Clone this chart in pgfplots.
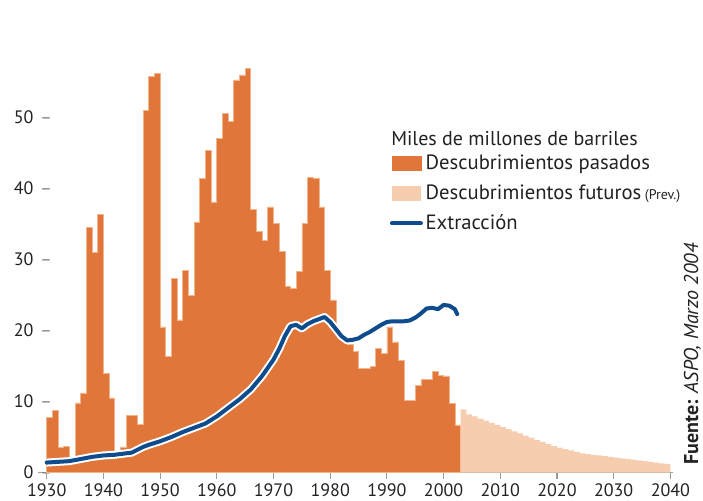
\documentclass[border=0pt]{standalone}
\usepackage{pgfplots}
\pgfplotsset{compat=1.18}
\usepackage{fontspec}
\setmainfont{PT Sans}
\definecolor{pastcol}{HTML}{E0763A}
\definecolor{pastedge}{HTML}{F2B48A}
\definecolor{futcol}{HTML}{F6CDAE}
\definecolor{extcol}{HTML}{0F4C8E}
\definecolor{txtcol}{HTML}{222222}

\begin{document}
\begin{tikzpicture}
\path[use as bounding box] (0,0) rectangle (527.25pt,375pt);
\begin{axis}[
    scale only axis,
    width=476.25pt, height=308.85pt,
    at={(28.65pt,20.625pt)}, anchor=south west,
    xmin=1928.5, xmax=2040.5,
    ymin=0, ymax=58,
    axis lines*=left,
    x axis line style={draw=gray!75, line width=1.1pt},
    y axis line style={draw=none},
    xtick={1930,1940,...,2040},
    ytick={0,10,...,50},
    xtick align=outside,
    xtick style={draw=gray!80, line width=0.8pt},
    major tick length=4.5pt,
    ytick style={draw=none},
    /pgf/number format/assume math mode=true,
    /pgf/number format/1000 sep={},
    tick label style={font=\fontsize{13.5}{15}\selectfont, text=txtcol},
    yticklabel={\pgfmathprintnumber{\tick}\hspace{5pt}{\color{gray}--}},
    yticklabel style={anchor=east, inner sep=0pt, xshift=10.5pt},
    clip=false,
    legend style={at={(0.5535,0.778)}, anchor=north west, draw=none, fill=none,
        font=\fontsize{15.5}{18}\selectfont, text=txtcol, row sep=6pt,
        inner sep=0pt},
    legend cell align=left,
]
% past discoveries, one bar per year
\addplot[const plot mark left, fill=pastcol, draw=pastedge, line width=0.5pt,
    legend image code/.code={\fill[pastcol] (0pt,-5.5pt) rectangle (21.75pt,5.5pt);}]
coordinates {
(1930,7.8)(1931,8.7)(1932,3.5)(1933,3.7)(1934,2.0)(1935,9.8)(1936,11.2)(1937,34.5)
(1938,31.0)(1939,36.3)(1940,14.0)(1941,10.5)(1942,2.2)(1943,3.6)(1944,8.0)(1945,8.0)
(1946,6.8)(1947,51.0)(1948,55.8)(1949,56.2)(1950,20.5)(1951,16.3)(1952,27.3)(1953,21.5)
(1954,28.5)(1955,25.0)(1956,35.3)(1957,41.4)(1958,45.4)(1959,38.1)(1960,47.1)(1961,50.6)
(1962,49.4)(1963,55.3)(1964,56.0)(1965,56.9)(1966,37.0)(1967,33.9)(1968,32.7)(1969,37.4)
(1970,35.1)(1971,31.1)(1972,26.2)(1973,25.9)(1974,28.3)(1975,35.1)(1976,41.6)(1977,41.4)
(1978,37.4)(1979,28.5)(1980,24.3)(1981,20.0)(1982,19.0)(1983,18.0)(1984,17.0)(1985,14.7)
(1986,14.7)(1987,14.9)(1988,17.5)(1989,16.8)(1990,20.5)(1991,18.4)(1992,15.8)(1993,10.2)
(1994,10.2)(1995,12.3)(1996,13.1)(1997,13.1)(1998,14.2)(1999,13.7)(2000,13.6)(2001,9.7)
(2002,6.7)(2003,6.7)
} \closedcycle;
\addlegendentry{Descubrimientos pasados}

% future discoveries (forecast)
\addplot[const plot mark left, fill=futcol, draw=none,
    legend image code/.code={\fill[futcol] (0pt,-5.5pt) rectangle (21.75pt,5.5pt);}]
coordinates {
(2003,8.9)(2004,8.2)(2005,7.9)(2006,7.6)(2007,7.3)(2008,7.0)(2009,6.7)(2010,6.4)
(2011,6.1)(2012,5.8)(2013,5.5)(2014,5.2)(2015,4.9)(2016,4.6)(2017,4.3)(2018,4.0)
(2019,3.7)(2020,3.5)(2021,3.3)(2022,3.1)(2023,2.9)(2024,2.7)(2025,2.6)(2026,2.5)
(2027,2.4)(2028,2.3)(2029,2.2)(2030,2.1)(2031,2.0)(2032,1.9)(2033,1.8)(2034,1.7)
(2035,1.6)(2036,1.5)(2037,1.4)(2038,1.3)(2039,1.2)(2040,1.2)
} \closedcycle;
\addlegendentry{Descubrimientos futuros\,{\fontsize{10.5}{12}\selectfont(Prev.)}}

% extraction
\pgfplotstableread{
year val
1930 1.4
1932 1.5
1934 1.6
1936 1.9
1938 2.2
1940 2.4
1942 2.5
1944 2.7
1945 2.8
1946 3.2
1947 3.6
1948 3.9
1950 4.4
1952 5.0
1954 5.7
1956 6.3
1958 6.9
1960 7.9
1962 9.1
1964 10.3
1966 11.7
1968 13.6
1970 15.9
1971 17.4
1972 19.2
1973 20.6
1974 20.8
1975 20.3
1976 20.9
1977 21.3
1978 21.6
1979 21.9
1980 21.2
1981 20.2
1982 19.2
1983 18.6
1984 18.7
1985 18.9
1986 19.4
1987 19.8
1988 20.3
1989 20.8
1990 21.2
1991 21.3
1992 21.3
1993 21.3
1994 21.4
1995 21.8
1996 22.4
1997 23.1
1998 23.2
1999 23.0
2000 23.6
2001 23.5
2002 23.0
2002.4 22.3
}\extraction
\addplot[white, line width=6pt, line join=round, forget plot] table[x=year, y=val] {\extraction};
\addplot[extcol, line width=3pt, line join=round, line cap=round,
    legend image code/.code={\draw[extcol, line width=3pt] (0pt,0pt) -- (21.75pt,0pt);}]
    table[x=year, y=val] {\extraction};
\addlegendentry{Extracción}

\node[anchor=base west, font=\fontsize{15}{17}\selectfont, text=txtcol, inner sep=0pt]
    at (axis description cs:0.5556,0.795) {Miles de millones de barriles};
\end{axis}
\node[rotate=90, anchor=base west, inner sep=0pt, font=\fontsize{15}{17}\selectfont, text=txtcol]
    at (523.5pt,26.25pt) {\textbf{Fuente:} \textit{ASPO, Marzo 2004}};
\end{tikzpicture}
\end{document}
